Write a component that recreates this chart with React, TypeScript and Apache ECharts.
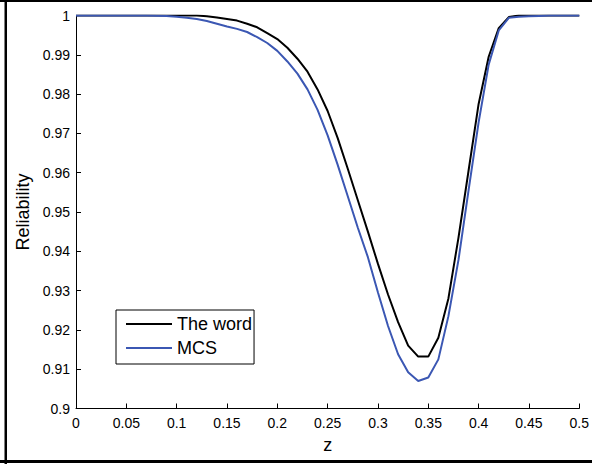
import React, { useEffect, useRef } from "react";
import * as echarts from "echarts";

const zValues = [
  0, 0.01, 0.02, 0.03, 0.04, 0.05, 0.06, 0.07, 0.08, 0.09,
  0.1, 0.11, 0.12, 0.13, 0.14, 0.15, 0.16, 0.17, 0.18, 0.19,
  0.2, 0.21, 0.22, 0.23, 0.24, 0.25, 0.26, 0.27, 0.28, 0.29,
  0.3, 0.31, 0.32, 0.33, 0.34, 0.35, 0.36, 0.37, 0.38, 0.39,
  0.4, 0.41, 0.42, 0.43, 0.44, 0.45, 0.46, 0.47, 0.48, 0.49, 0.5,
];

const theWord = [
  1, 1, 1, 1, 1, 1, 1, 1, 1, 1,
  1, 1, 1, 0.9998, 0.9995, 0.9991, 0.9987, 0.9979, 0.997, 0.9955,
  0.994, 0.9918, 0.989, 0.9857, 0.9812, 0.9757, 0.9688, 0.961, 0.953, 0.945,
  0.9368, 0.929, 0.922, 0.916, 0.9132, 0.9132, 0.918, 0.928, 0.9435, 0.9605,
  0.9775, 0.9895, 0.9968, 0.9996, 1, 1, 1, 1, 1, 1, 1,
];

const mcs = [
  1, 1, 1, 1, 1, 1, 1, 1, 0.99995, 0.9999,
  0.9997, 0.9994, 0.9991, 0.9986, 0.9979, 0.9972, 0.9966, 0.9958, 0.9945, 0.993,
  0.991, 0.9883, 0.9852, 0.9812, 0.976, 0.9695, 0.962, 0.954, 0.946, 0.9385,
  0.9295, 0.921, 0.9138, 0.9092, 0.907, 0.9079, 0.9125, 0.9235, 0.9378, 0.9555,
  0.9728, 0.9875, 0.9962, 0.9994, 0.9997, 0.9998, 0.9999, 1, 1, 1, 1,
];

const seriesNames = ["The word", "MCS"];
const FONT = "'Liberation Sans', Arial, sans-serif";

export default function App() {
  const ref = useRef<HTMLDivElement>(null);
  useEffect(() => {
    if (!ref.current) return;
    const chart = echarts.init(ref.current, null, { renderer: "svg" });
    const fmt = (v: number) => String(+v.toFixed(2));
    chart.setOption({
      animation: false,
      backgroundColor: "#fff",
      textStyle: { fontFamily: FONT, color: "#000" },
      grid: { left: 76, right: 11.5, top: 15.5, bottom: 55.5, containLabel: false },
      legend: {
        orient: "vertical",
        left: 116,
        top: 310,
        padding: [5, 2, 7, 10],
        backgroundColor: "#fff",
        borderColor: "#000",
        borderWidth: 1,
        borderRadius: 0,
        icon: "rect",
        itemWidth: 46,
        itemHeight: 2,
        itemGap: 6,
        textStyle: { fontFamily: FONT, fontSize: 18, color: "#000", padding: [0, 0, 0, 0] },
        data: seriesNames,
      },
      xAxis: {
        type: "value",
        min: 0,
        max: 0.5,
        interval: 0.05,
        name: "z",
        nameLocation: "middle",
        nameGap: 27,
        nameTextStyle: { fontFamily: FONT, fontSize: 18, color: "#000" },
        axisLine: { show: true, onZero: false, lineStyle: { color: "#000", width: 1 } },
        axisTick: { show: true, inside: true, length: 5, lineStyle: { color: "#000" } },
        axisLabel: { color: "#000", fontSize: 14, fontFamily: FONT, margin: 7, formatter: fmt },
        splitLine: { show: false },
      },
      yAxis: {
        type: "value",
        min: 0.9,
        max: 1,
        interval: 0.01,
        name: "Reliability",
        nameLocation: "middle",
        nameGap: 43,
        nameTextStyle: { fontFamily: FONT, fontSize: 18, color: "#000" },
        axisLine: { show: true, lineStyle: { color: "#000", width: 1 } },
        axisTick: { show: true, inside: true, length: 5, lineStyle: { color: "#000" } },
        axisLabel: { color: "#000", fontSize: 14, fontFamily: FONT, margin: 6, formatter: fmt },
        splitLine: { show: false },
      },
      series: [
        {
          name: seriesNames[0],
          type: "line",
          data: zValues.map((z, i) => [z, theWord[i]]),
          symbol: "none",
          lineStyle: { color: "#000", width: 2 },
          itemStyle: { color: "#000" },
        },
        {
          name: seriesNames[1],
          type: "line",
          data: zValues.map((z, i) => [z, mcs[i]]),
          symbol: "none",
          lineStyle: { color: "#3b57b3", width: 2 },
          itemStyle: { color: "#3b57b3" },
        },
      ],
      graphic: [
        { type: "rect", shape: { x: 0, y: 0, width: 592, height: 2 }, style: { fill: "#000" }, z: 100 },
        { type: "rect", shape: { x: 4.5, y: 0, width: 2.5, height: 464 }, style: { fill: "#000" }, z: 100 },
        { type: "rect", shape: { x: 0, y: 460, width: 592, height: 3 }, style: { fill: "#000" }, z: 100 },
      ],
    });
    return () => chart.dispose();
  }, []);
  return (
    <div
      ref={ref}
      style={{ position: "absolute", left: 0, top: 0, width: 592, height: 464 }}
    />
  );
}
